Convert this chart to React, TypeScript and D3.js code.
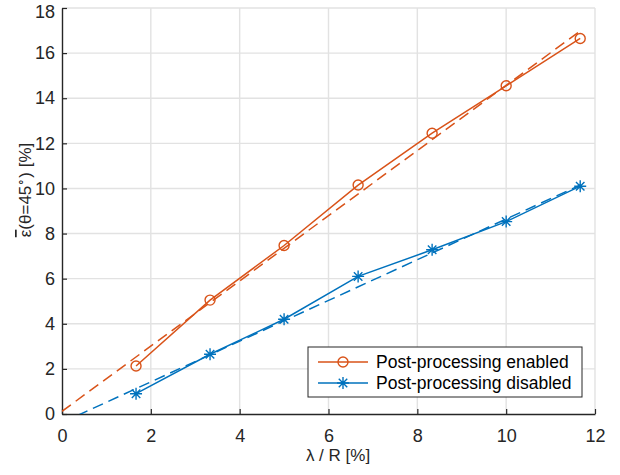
import * as React from "react";
import * as d3 from "d3";

// lambda / R [%]
const ratio = [1.667, 3.333, 5, 6.667, 8.333, 10, 11.667];
const enabled = [2.13, 5.05, 7.47, 10.15, 12.45, 14.55, 16.65];
const disabled = [0.9, 2.65, 4.2, 6.1, 7.28, 8.53, 10.1];

// linear fits (dashed), given at the ends of the range
const fitX = [0, 11.667];
const fitEnabled = [0.12, 16.98];
const fitDisabled = [-0.38, 10.15];

const xTicks = [0, 2, 4, 6, 8, 10, 12];
const yTicks = [0, 2, 4, 6, 8, 10, 12, 14, 16, 18];

const seriesNames = ["Post-processing enabled", "Post-processing disabled"];
const colors = ["#D95319", "#0072BD"];

const width = 620;
const height = 475;
const margin = { top: 8, right: 25, bottom: 61, left: 62 };
const font = "'Liberation Sans', Arial, Helvetica, sans-serif";

function drawMarker(g: any, kind: string, x: number, y: number, color: string) {
  if (kind === "circle") {
    g.append("circle")
      .attr("cx", x)
      .attr("cy", y)
      .attr("r", 5)
      .attr("fill", "none")
      .attr("stroke", color)
      .attr("stroke-width", 1.4);
  } else {
    const r = 6;
    const d = r * Math.SQRT1_2;
    const path = `M${x - r},${y}L${x + r},${y}M${x},${y - r}L${x},${y + r}` +
      `M${x - d},${y - d}L${x + d},${y + d}M${x - d},${y + d}L${x + d},${y - d}`;
    g.append("path")
      .attr("d", path)
      .attr("stroke", color)
      .attr("stroke-width", 1.4)
      .attr("fill", "none");
  }
}

function Chart() {
  const ref = React.useRef<SVGSVGElement>(null);

  React.useEffect(() => {
    const svg = d3.select(ref.current);
    svg.selectAll("*").remove();

    const w = width - margin.left - margin.right;
    const h = height - margin.top - margin.bottom;

    const x = d3.scaleLinear().domain([0, 12]).range([0, w]);
    const y = d3.scaleLinear().domain([0, 18]).range([h, 0]);

    svg.append("rect").attr("width", width).attr("height", height).attr("fill", "#fff");

    svg.append("defs")
      .append("clipPath")
      .attr("id", "plot-clip")
      .append("rect")
      .attr("width", w)
      .attr("height", h);

    const g = svg.append("g").attr("transform", `translate(${margin.left},${margin.top})`);

    // grid
    g.selectAll(".gx")
      .data(xTicks.slice(1))
      .enter()
      .append("line")
      .attr("x1", (d) => x(d))
      .attr("x2", (d) => x(d))
      .attr("y1", 0)
      .attr("y2", h)
      .attr("stroke", "#e2e2e2")
      .attr("stroke-width", 1.4);

    g.selectAll(".gy")
      .data(yTicks.slice(1))
      .enter()
      .append("line")
      .attr("x1", 0)
      .attr("x2", w)
      .attr("y1", (d) => y(d))
      .attr("y2", (d) => y(d))
      .attr("stroke", "#e2e2e2")
      .attr("stroke-width", 1.4);

    // axes
    const xAxis = d3.axisBottom(x).tickValues(xTicks).tickSize(-5).tickPadding(15).tickSizeOuter(0);
    const yAxis = d3.axisLeft(y).tickValues(yTicks).tickSize(-5).tickPadding(7).tickSizeOuter(0);

    const gx = g.append("g").attr("transform", `translate(0,${h})`).call(xAxis);
    const gy = g.append("g").call(yAxis);

    [gx, gy].forEach((a) => {
      a.select(".domain").attr("stroke", "#262626").attr("stroke-width", 1.4);
      a.selectAll(".tick line").attr("stroke", "#262626").attr("stroke-width", 1.2);
      a.selectAll(".tick text")
        .attr("fill", "#262626")
        .attr("font-family", font)
        .attr("font-size", 18);
    });

    // top label sits a little lower so it stays inside the figure
    gy.selectAll(".tick text")
      .filter((d: any) => d === 18)
      .attr("y", 4);

    // fits
    const plot = g.append("g").attr("clip-path", "url(#plot-clip)");
    [fitEnabled, fitDisabled].forEach((fit, i) => {
      const pts = fitX.map((v, j) => [x(v), y(fit[j])] as [number, number]);
      plot.append("path")
        .attr("d", d3.line()(pts))
        .attr("fill", "none")
        .attr("stroke", colors[i])
        .attr("stroke-width", 1.5)
        .attr("stroke-dasharray", "11,6");
    });

    // data
    const markers = ["circle", "asterisk"];
    [enabled, disabled].forEach((vals, i) => {
      const pts = ratio.map((v, j) => [x(v), y(vals[j])] as [number, number]);
      g.append("path")
        .attr("d", d3.line()(pts))
        .attr("fill", "none")
        .attr("stroke", colors[i])
        .attr("stroke-width", 1.5);
      pts.forEach((p) => drawMarker(g, markers[i], p[0], p[1], colors[i]));
    });

    // axis labels
    svg.append("text")
      .attr("x", 338)
      .attr("y", 461)
      .attr("text-anchor", "middle")
      .attr("font-family", font)
      .attr("font-size", 17)
      .attr("fill", "#262626")
      .text("λ / R [%]");

    const yl = svg.append("text")
      .attr("transform", "translate(31,190) rotate(-90)")
      .attr("text-anchor", "middle")
      .attr("font-family", font)
      .attr("font-size", 17)
      .attr("fill", "#262626");
    yl.append("tspan").attr("text-decoration", "overline").text("ε");
    yl.append("tspan").text("(θ=45");
    yl.append("tspan").attr("font-size", 12).attr("dy", -6).text("∘");
    yl.append("tspan").attr("dy", 6).text(") [%]");

    // legend
    const lg = svg.append("g").attr("transform", "translate(308,347)");
    lg.append("rect")
      .attr("width", 274)
      .attr("height", 50)
      .attr("fill", "#fff")
      .attr("stroke", "#262626")
      .attr("stroke-width", 1);
    seriesNames.forEach((name, i) => {
      const cy = 15 + i * 21;
      lg.append("line")
        .attr("x1", 10)
        .attr("x2", 60)
        .attr("y1", cy)
        .attr("y2", cy)
        .attr("stroke", colors[i])
        .attr("stroke-width", 1.5);
      drawMarker(lg, markers[i], 35, cy, colors[i]);
      lg.append("text")
        .attr("x", 68)
        .attr("y", cy)
        .attr("dy", "0.35em")
        .attr("font-family", font)
        .attr("font-size", 17.5)
        .attr("fill", "#000")
        .text(name);
    });
  }, []);

  return (
    <svg
      ref={ref}
      width={width}
      height={height}
      style={{ position: "absolute", left: 0, top: 0 }}
    />
  );
}

export default function App() {
  return <Chart />;
}
